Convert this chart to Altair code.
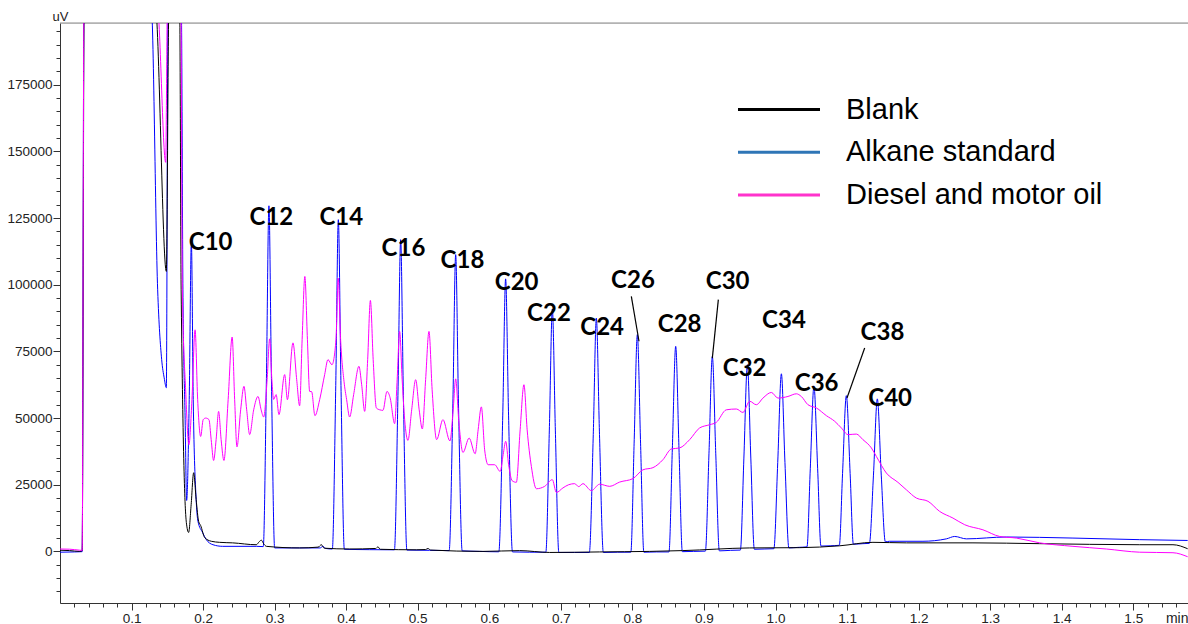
import altair as alt
import pandas as pd

# ---------------- data ----------------
# Blank (black)
blank_t = [0.0000, 0.0135, 0.0275, 0.0310, 0.0338, 0.1330, 0.1486, 0.1523, 0.1672, 0.1693,
           0.1766, 0.1798, 0.1833, 0.1868, 0.1903, 0.1938, 0.1966, 0.2022, 0.2115, 0.2231,
           0.2413, 0.2744, 0.2783, 0.2814, 0.2846, 0.2884, 0.3349, 0.3608, 0.3653, 0.3692,
           0.4048, 0.4412, 0.4444, 0.4475, 0.4980, 0.5110, 0.5143, 0.5180, 0.5911, 0.6424,
           0.6843, 0.7542, 0.8241, 0.8702, 0.9639, 1.0338, 1.0897, 1.1362, 1.1829, 1.2760,
           1.3692, 1.5090, 1.5555, 1.5760]
blank_uv = [450, 300, 0, 300, 205000, 205000, 105000, 205000, 205000, 98100,
            10800, 7100, 17500, 29500, 19400, 11200, 9700, 5200, 3800, 3400,
            3200, 2500, 3600, 4200, 2900, 1900, 1300, 1600, 2500, 1200,
            900, 1100, 1700, 800, 600, 700, 1100, 500, 0, 300,
            -400, -200, 0, 300, 1300, 1400, 2100, 3400, 3200, 3200,
            2900, 2500, 2500, 1000]

# Alkane standard (blue)
alkane_t = [0.0000, 0.0205, 0.0310, 0.0335, 0.1274, 0.1365, 0.1421, 0.1456, 0.1486, 0.1510,
            0.1695, 0.1718, 0.1749, 0.1770, 0.1806, 0.1836, 0.1862, 0.1903, 0.1928, 0.1994,
            0.2045, 0.2138, 0.2273, 0.2744, 0.2841, 0.2885, 0.2920, 0.2955, 0.3000, 0.3350,
            0.3636, 0.3675, 0.3713, 0.3806, 0.3854, 0.3890, 0.3927, 0.3974, 0.4328, 0.4674,
            0.4723, 0.4761, 0.4799, 0.4848, 0.5166, 0.5439, 0.5491, 0.5530, 0.5569, 0.5621,
            0.5865, 0.6133, 0.6188, 0.6228, 0.6269, 0.6324, 0.6564, 0.6790, 0.6839, 0.6881,
            0.6923, 0.6972, 0.7193, 0.7398, 0.7453, 0.7496, 0.7540, 0.7594, 0.7794, 0.7978,
            0.8024, 0.8069, 0.8114, 0.8160, 0.8339, 0.8511, 0.8558, 0.8605, 0.8651, 0.8698,
            0.8856, 0.9020, 0.9070, 0.9117, 0.9165, 0.9215, 0.9373, 0.9509, 0.9558, 0.9607,
            0.9655, 0.9704, 0.9841, 0.9977, 1.0031, 1.0082, 1.0132, 1.0187, 1.0310, 1.0440,
            1.0486, 1.0537, 1.0589, 1.0635, 1.0764, 1.0892, 1.0937, 1.0990, 1.1043, 1.1088,
            1.1222, 1.1312, 1.1369, 1.1423, 1.1478, 1.1535, 1.1595, 1.2061, 1.2388, 1.2504,
            1.2667, 1.3226, 1.4157, 1.5090, 1.5760]
alkane_uv = [-300, -200, -100, 205000, 205000, 98100, 71900, 65100, 61400, 205000,
             205000, 98100, 49400, 19100, 56900, 116300, 56900, 19400, 11300, 7000,
             4400, 2500, 1900, 1900, 1800, 64800, 129600, 64800, 1300, 1300,
             1300, 1900, 1100, 900, 62200, 124400, 62200, 800, 650, 600,
             58400, 116900, 58400, 500, 400, 300, 55600, 111300, 55600, 200,
             0, -150, 51100, 102200, 51100, -200, -300, -300, 45500, 90900,
             45500, -400, -400, -400, 43800, 87500, 43800, -400, -300, -300,
             40600, 81300, 40600, -300, -200, -200, 38400, 76900, 38400, -100,
             0, 100, 36600, 73100, 36600, 200, 400, 500, 35000, 70000,
             35000, 800, 900, 1000, 33300, 66600, 33300, 1300, 1500, 1700,
             31000, 61900, 31000, 2000, 2100, 2300, 29200, 58400, 29200, 2700,
             2900, 3000, 28600, 57200, 28600, 3600, 3800, 3800, 4700, 5600,
             4700, 5400, 5000, 4400, 4100]

# Diesel and motor oil (magenta)
diesel_t = [0.0000, 0.0135, 0.0275, 0.0310, 0.0335, 0.1358, 0.1477, 0.1502, 0.1689, 0.1710,
            0.1756, 0.1802, 0.1844, 0.1888, 0.1924, 0.1966, 0.2001, 0.2036, 0.2082, 0.2113,
            0.2147, 0.2182, 0.2217, 0.2252, 0.2291, 0.2350, 0.2406, 0.2441, 0.2473, 0.2525,
            0.2571, 0.2609, 0.2651, 0.2707, 0.2767, 0.2811, 0.2846, 0.2895, 0.2930, 0.2961,
            0.2986, 0.3021, 0.3060, 0.3140, 0.3178, 0.3256, 0.3308, 0.3349, 0.3384, 0.3422,
            0.3458, 0.3489, 0.3517, 0.3563, 0.3629, 0.3699, 0.3745, 0.3801, 0.3857, 0.3888,
            0.3922, 0.3969, 0.4006, 0.4048, 0.4104, 0.4178, 0.4216, 0.4258, 0.4300, 0.4338,
            0.4377, 0.4421, 0.4468, 0.4514, 0.4570, 0.4614, 0.4677, 0.4712, 0.4747, 0.4782,
            0.4817, 0.4863, 0.4915, 0.4971, 0.5020, 0.5064, 0.5110, 0.5157, 0.5201, 0.5264,
            0.5352, 0.5450, 0.5495, 0.5530, 0.5572, 0.5632, 0.5718, 0.5802, 0.5844, 0.5889,
            0.5935, 0.5984, 0.6075, 0.6152, 0.6194, 0.6229, 0.6270, 0.6319, 0.6378, 0.6431,
            0.6484, 0.6529, 0.6588, 0.6658, 0.6774, 0.6881, 0.6937, 0.7029, 0.7109, 0.7193,
            0.7249, 0.7309, 0.7426, 0.7542, 0.7682, 0.7822, 0.8008, 0.8147, 0.8287, 0.8427,
            0.8544, 0.8660, 0.8800, 0.8940, 0.9080, 0.9173, 0.9313, 0.9453, 0.9545, 0.9639,
            0.9732, 0.9825, 0.9942, 1.0034, 1.0174, 1.0291, 1.0361, 1.0454, 1.0571, 1.0711,
            1.0827, 1.0920, 1.1013, 1.1130, 1.1222, 1.1340, 1.1410, 1.1549, 1.1711, 1.1829,
            1.1969, 1.2131, 1.2294, 1.2480, 1.2644, 1.2899, 1.3133, 1.3366, 1.3692, 1.4157,
            1.4624, 1.5090, 1.5555, 1.5760]
diesel_uv = [900, 825, 450, 375, 205000, 205000, 145900, 205000, 205000, 98100,
             60600, 40000, 56900, 83100, 56900, 43100, 49400, 50000, 49400, 41900,
             34100, 41900, 52500, 41900, 34100, 56900, 80400, 56900, 39200, 53100,
             61900, 53100, 43800, 53100, 58100, 53100, 50400, 64400, 79700, 64400,
             57000, 58800, 51300, 66300, 56900, 78200, 64400, 54600, 79400, 103100,
             79400, 60000, 59900, 50900, 56900, 66300, 71900, 70000, 79400, 102500,
             79400, 63800, 56900, 50400, 58800, 69400, 62500, 52500, 71900, 94100,
             71900, 53800, 53100, 52900, 60000, 57600, 47900, 64400, 82500, 64400,
             49400, 41600, 53100, 64400, 53100, 45900, 64400, 82500, 60600, 41900,
             49400, 41400, 53100, 64700, 49400, 37100, 42500, 36600, 45600, 54200,
             38100, 32500, 32500, 30000, 36300, 41300, 32500, 26500, 25900, 45600,
             62500, 45600, 31800, 23500, 24400, 26900, 22100, 23800, 25000, 25400,
             24300, 25400, 22800, 25200, 24400, 26000, 27300, 30600, 31400, 34400,
             38400, 38800, 41900, 46300, 47500, 48400, 53100, 53400, 52100, 56300,
             55000, 57500, 59600, 57500, 58100, 59100, 58100, 55000, 53800, 50900,
             48800, 46300, 43800, 44000, 41900, 38800, 35600, 29400, 25900, 23100,
             20000, 18800, 15000, 12500, 10000, 8100, 5600, 5000, 3200, 1900,
             900, -300, -500, -2000]

# peak labels
peak_names = ["C10", "C12", "C14", "C16", "C18", "C20", "C22", "C24",
              "C26", "C28", "C30", "C32", "C34", "C36", "C38", "C40"]
peak_label_t = [0.2106, 0.2954, 0.3932, 0.4800, 0.5625, 0.6382, 0.6834, 0.7577,
                0.8008, 0.8660, 0.9331, 0.9569, 1.0118, 1.0575, 1.1495, 1.1602]
peak_label_uv = [113100, 122500, 122500, 110900, 106300, 98100, 86300, 81300,
                 98800, 82100, 98400, 65900, 83800, 60000, 79100, 54600]

# leader lines (C26, C30, C38)
leader_t1 = [0.7985, 0.9201, 1.1246]
leader_uv1 = [95600, 94400, 76300]
leader_t2 = [0.8092, 0.9117, 1.0999]
leader_uv2 = [78800, 72500, 57500]

legend_names = ["Blank", "Alkane standard", "Diesel and motor oil"]
legend_colors = ["#000000", "#2E75B6", "#FF33CC"]

x_major = [0.1, 0.2, 0.3, 0.4, 0.5, 0.6, 0.7, 0.8, 0.9, 1.0, 1.1, 1.2, 1.3, 1.4, 1.5]
x_tick_values = [round(0.02 * i, 2) for i in range(1, 79)]
y_major = [0, 25000, 50000, 75000, 100000, 125000, 150000, 175000]
y_tick_values = [5000 * i for i in range(-3, 40)]

# ---------------- chart ----------------
FONT = "Liberation Sans"
x_scale = alt.Scale(domain=[0, 1.5765], nice=False, zero=False)
y_scale = alt.Scale(domain=[-19350, 198150], nice=False, zero=False)

x_is_major = "abs(datum.value*10 - round(datum.value*10)) < 0.001"
x_axis = alt.Axis(
    values=x_tick_values, tickCount=500,
    labelExpr=x_is_major + " ? format(datum.value, '.1f') : ''",
    tickSize={"condition": {"test": x_is_major, "value": 7}, "value": 4},
    labelOverlap=False, labelFlush=False, labelPadding=12, labelBaseline="alphabetic",
    labelFont=FONT, labelFontSize=13.5, labelColor="#222222",
    domainColor="#333333", tickColor="#333333", grid=False,
    title="min", titleX=1128, titleY=19, titleAlign="right", titleBaseline="alphabetic",
    titleFont=FONT, titleFontSize=14, titleFontWeight="normal", titleColor="#222222",
)
y_is_major = "datum.value % 25000 == 0"
y_axis = alt.Axis(
    values=y_tick_values, tickCount=500,
    labelExpr=y_is_major + " ? format(datum.value, 'd') : ''",
    tickSize={"condition": {"test": y_is_major, "value": 7}, "value": 4},
    labelOverlap=False, labelFlush=False, labelPadding=1,
    labelFont=FONT, labelFontSize=13.5, labelColor="#222222",
    domainColor="#333333", tickColor="#333333", grid=False,
    title="uV", titleAngle=0, titleX=0, titleY=-3, titleAlign="center",
    titleBaseline="alphabetic", titleFont=FONT, titleFontSize=13,
    titleFontWeight="normal", titleColor="#222222",
)

def series(t, v):
    return pd.DataFrame({"t": t, "uV": v})

X = alt.X("t:Q", scale=x_scale, axis=x_axis)
Y = alt.Y("uV:Q", scale=y_scale, axis=y_axis)

def trace(df, color):
    return alt.Chart(df).mark_line(color=color, strokeWidth=1, clip=True,
                                   interpolate="monotone").encode(x=X, y=Y)

blue_layer = trace(series(alkane_t, alkane_uv), "#0000FF")
black_layer = trace(series(blank_t, blank_uv), "#000000")
magenta_layer = trace(series(diesel_t, diesel_uv), "#FF00FF")

top_line = alt.Chart(pd.DataFrame({"a": [0]})).mark_rule(color="#8a8a8a", strokeWidth=1).encode(
    x=alt.datum(0, scale=x_scale), x2=alt.datum(1.5765),
    y=alt.datum(198150, scale=y_scale),
)

labels_df = pd.DataFrame({"t": peak_label_t, "uV": peak_label_uv, "name": peak_names})
labels = alt.Chart(labels_df).mark_text(
    font="Lato", fontWeight="bold", fontSize=24, align="center", baseline="alphabetic", color="black"
).encode(x=X, y=Y, text="name:N")

leaders_df = pd.DataFrame({"t": leader_t1, "uV": leader_uv1, "t2": leader_t2, "uV2": leader_uv2})
leaders = alt.Chart(leaders_df).mark_rule(color="black", strokeWidth=1.2).encode(
    x=X, y=Y, x2="t2:Q", y2="uV2:Q"
)

legend_df = pd.DataFrame({"series": legend_names, "t": [0, 0, 0], "uV": [0, 0, 0]})
legend_layer = alt.Chart(legend_df).mark_line(strokeWidth=3).encode(
    x=X, y=Y,
    color=alt.Color(
        "series:N",
        scale=alt.Scale(domain=legend_names, range=legend_colors),
        legend=alt.Legend(
            orient="none", legendX=701, legendY=68.5, title=None,
            symbolType="M-2.5,0L2.5,0", symbolSize=1076, symbolStrokeWidth=3,
            symbolOffset=0, labelOffset=49, rowPadding=9.7, padding=0,
            labelFont=FONT, labelFontSize=29, labelColor="black", labelLimit=0,
        ),
    ),
).transform_filter("datum.t > 10")

chart = alt.layer(
    top_line, blue_layer, black_layer, magenta_layer, leaders, labels, legend_layer
).properties(
    width=1128, height=580,
    padding={"left": 60, "top": 23, "right": 0, "bottom": 21},
    autosize=alt.AutoSizeParams(type="none"),
).configure_view(stroke=None).configure(background="white")

chart.save("out.html", embed_options={"renderer": "svg", "actions": False})
